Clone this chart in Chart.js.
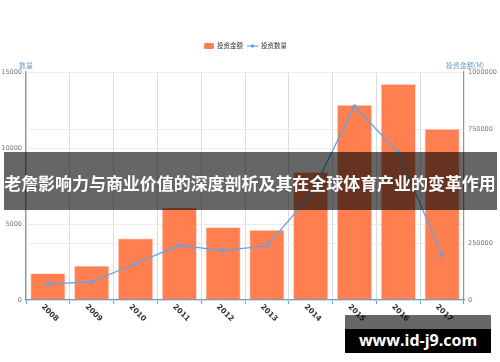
<!DOCTYPE html>
<html>
<head>
<meta charset="utf-8">
<script src="https://cdn.jsdelivr.net/npm/chart.js@4.4.0/dist/chart.umd.min.js"></script>
<style>
html,body{margin:0;padding:0;background:#fff;}
#wrap{position:relative;width:500px;height:362px;overflow:hidden;font-family:"Noto Sans CJK SC","Noto Sans",sans-serif;}
#c{position:absolute;left:0;top:0;}
#banner{position:absolute;left:4px;top:152px;width:493px;height:58px;background:rgba(0,0,0,0.6);}
#btext{position:absolute;left:0;top:171px;width:500px;text-align:center;color:#fff;font-size:17px;font-weight:bold;line-height:24px;white-space:nowrap;letter-spacing:-0.05px;}
#wm1{position:absolute;left:345px;top:315px;width:146px;height:14px;background:rgba(0,0,0,0.6);}
#wm2{position:absolute;left:345px;top:329px;width:146px;height:24px;background:#000;color:#fff;font-family:"Open Sans","DejaVu Sans",sans-serif;font-weight:bold;font-size:16px;line-height:22px;text-align:center;}
</style>
</head>
<body>
<div id="wrap">
<canvas id="c" width="500" height="362"></canvas>
<div id="banner"></div>
<div id="btext">老詹影响力与商业价值的深度剖析及其在全球体育产业的变革作用</div>
<div id="wm1"></div>
<div id="wm2">www.id-j9.com</div>
</div>
<script>
const years = ['2008','2009','2010','2011','2012','2013','2014','2015','2016','2017'];
const amountValues = [117000, 150000, 270000, 406000, 319000, 307000, 561000, 855000, 947000, 750000];
const countValues = [1050, 1200, 2400, 3600, 3250, 3575, 6900, 12750, 9700, 2950];
const leftTicks = [0, 5000, 10000, 15000];
const rightTicks = [0, 250000, 500000, 750000, 1000000];
const legendNames = ['投资金额', '投资数量'];
const axisNames = ['数量', '投资金额(M)'];

const BAR = '#ff7f50';
const LINE = '#5aa7ec';
const AXIS = '#6a9fd4';

const overlay = {
  id: 'overlay',
  afterDraw(chart) {
    const ctx = chart.ctx;
    const xs = chart.scales.x;
    const yl = chart.scales.y;
    const yr = chart.scales.y1;
    ctx.save();
    // x labels rotated clockwise
    ctx.font = 'bold 7.5px "DejaVu Sans", sans-serif';
    ctx.fillStyle = '#333';
    ctx.textAlign = 'center';
    ctx.textBaseline = 'middle';
    years.forEach((y, i) => {
      const px = xs.getPixelForValue(i);
      ctx.save();
      ctx.translate(px + 2, xs.top + 13);
      ctx.rotate(Math.PI / 4);
      ctx.fillText(y, 0, 0);
      ctx.restore();
    });
    // axis names
    ctx.font = '7px "Noto Sans CJK SC", sans-serif';
    ctx.fillStyle = AXIS;
    ctx.fillText(axisNames[0], yl.right, 65);
    ctx.fillText(axisNames[1], yr.left + 1, 65);
    // legend
    const ly = 46;
    ctx.fillStyle = BAR;
    ctx.beginPath();
    if (ctx.roundRect) ctx.roundRect(204, ly - 3, 10, 6, 1.5); else ctx.rect(204, ly - 3, 10, 6);
    ctx.fill();
    ctx.fillStyle = '#333';
    ctx.textAlign = 'left';
    ctx.font = '6.5px "Noto Sans CJK SC", sans-serif';
    ctx.fillText(legendNames[0], 217, ly);
    ctx.strokeStyle = LINE;
    ctx.lineWidth = 1.2;
    ctx.beginPath(); ctx.moveTo(247, ly); ctx.lineTo(258, ly); ctx.stroke();
    ctx.fillStyle = LINE;
    ctx.beginPath(); ctx.arc(252.5, ly, 1.8, 0, Math.PI * 2); ctx.fill();
    ctx.fillStyle = '#333';
    ctx.fillText(legendNames[1], 261, ly);
    ctx.restore();
  }
};

new Chart(document.getElementById('c'), {
  data: {
    labels: years,
    datasets: [
      {
        type: 'line',
        label: legendNames[1],
        data: countValues,
        yAxisID: 'y',
        borderColor: LINE,
        backgroundColor: LINE,
        borderWidth: 1.3,
        pointRadius: 2,
        pointBorderWidth: 0,
        tension: 0,
        order: 0
      },
      {
        type: 'bar',
        label: legendNames[0],
        data: amountValues,
        yAxisID: 'y1',
        backgroundColor: BAR,
        borderColor: 'rgba(255,200,180,0.9)',
        borderWidth: 0.8,
        barPercentage: 0.8,
        categoryPercentage: 1.0,
        order: 1
      }
    ]
  },
  plugins: [overlay],
  options: {
    responsive: false,
    animation: false,
    devicePixelRatio: 1,
    layout: { padding: { top: 72, left: 0, right: 0, bottom: 0 } },
    plugins: { legend: { display: false }, tooltip: { enabled: false } },
    scales: {
      x: {
        type: 'category',
        offset: true,
        afterFit(s) { s.height = 62; },
        ticks: { display: false },
        grid: { offset: true, color: '#dcdcdc', lineWidth: 1, drawTicks: true, tickLength: 4, tickColor: AXIS },
        border: { color: AXIS, width: 1.2 }
      },
      y: {
        position: 'left',
        min: 0, max: 15000,
        afterFit(s) { s.width = 26; },
        afterBuildTicks(s) { s.ticks = leftTicks.map(v => ({ value: v })); },
        ticks: { font: { size: 6.5, family: '"DejaVu Sans", sans-serif' }, color: '#777', padding: 4, callback: v => String(v) },
        grid: { color: '#ececec', drawTicks: false },
        border: { color: AXIS, width: 1.2 }
      },
      y1: {
        position: 'right',
        min: 0, max: 1000000,
        afterFit(s) { s.width = 36; },
        afterBuildTicks(s) { s.ticks = rightTicks.map(v => ({ value: v })); },
        ticks: { font: { size: 6.5, family: '"DejaVu Sans", sans-serif' }, color: '#777', padding: 4, callback: v => String(v) },
        grid: { color: '#ececec', drawTicks: false },
        border: { color: AXIS, width: 1.2 }
      }
    }
  }
});
</script>
</body>
</html>
